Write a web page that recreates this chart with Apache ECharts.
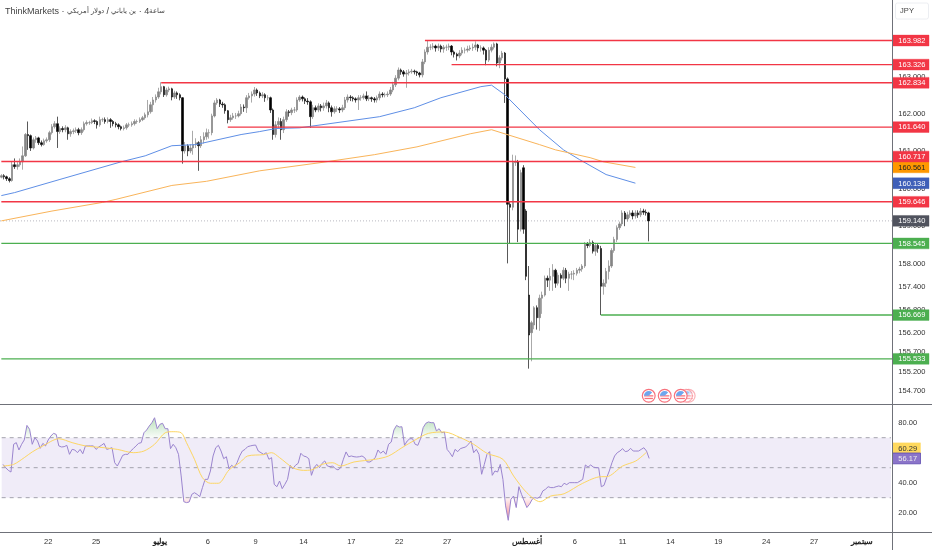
<!DOCTYPE html>
<html><head><meta charset="utf-8">
<style>html,body{margin:0;padding:0;background:#fff}#c{width:932px;height:550px}</style>
<script src="https://cdn.jsdelivr.net/npm/echarts@6/dist/echarts.min.js"></script>
</head><body><div id="c"></div>
<script>
const opens=[160.30,160.34,160.31,160.26,160.21,160.63,160.58,160.63,160.71,160.87,161.44,161.41,161.08,161.30,161.35,161.22,161.17,161.27,161.30,161.49,161.65,161.73,161.52,161.60,161.57,161.62,161.46,161.52,161.54,161.57,161.49,161.57,161.73,161.76,161.76,161.81,161.79,161.70,161.84,161.84,161.79,161.84,161.79,161.73,161.70,161.65,161.60,161.62,161.70,161.70,161.73,161.79,161.79,161.84,161.89,161.97,162.05,162.24,162.37,162.45,162.59,162.73,162.51,162.64,162.67,162.45,162.56,162.51,162.43,161.00,161.14,161.00,161.08,161.17,161.22,161.14,161.30,161.38,161.49,161.49,161.94,162.29,162.37,162.26,162.24,162.08,161.84,161.89,161.94,161.94,162.00,162.18,162.16,162.43,162.48,162.53,162.64,162.56,162.48,162.51,162.43,162.43,162.10,161.44,161.70,161.79,161.57,161.84,162.05,162.03,162.10,162.10,162.37,162.45,162.40,162.34,162.32,161.92,162.16,162.10,162.21,162.16,162.21,162.29,162.16,162.05,162.13,162.13,162.10,162.16,162.37,162.45,162.43,162.40,162.37,162.43,162.43,162.48,162.40,162.43,162.40,162.37,162.43,162.53,162.51,162.51,162.53,162.64,162.78,162.96,163.18,163.13,163.07,163.10,163.13,163.15,163.13,163.10,163.05,163.40,163.67,163.80,163.80,163.83,163.78,163.83,163.75,163.80,163.80,163.83,163.67,163.61,163.56,163.64,163.72,163.72,163.75,163.78,163.80,163.86,163.78,163.78,163.72,163.45,163.72,163.80,163.89,163.37,163.51,163.64,162.94,159.58,159.50,160.69,160.71,158.92,160.55,159.40,157.19,156.21,156.41,156.86,156.60,157.11,157.19,157.63,157.58,157.68,157.84,157.50,157.71,157.63,157.84,157.63,157.74,157.74,157.76,157.84,157.87,157.95,158.52,158.49,158.57,158.34,158.49,158.41,157.42,157.50,157.81,157.95,158.36,158.65,158.96,159.06,159.35,159.19,159.30,159.35,159.27,159.35,159.30,159.40,159.37,159.35];
const closes=[160.34,160.31,160.26,160.21,160.63,160.58,160.63,160.71,160.87,161.44,161.41,161.08,161.30,161.35,161.22,161.17,161.27,161.30,161.49,161.65,161.73,161.52,161.60,161.57,161.62,161.46,161.52,161.54,161.57,161.49,161.57,161.73,161.76,161.76,161.81,161.79,161.70,161.84,161.84,161.79,161.84,161.79,161.73,161.70,161.65,161.60,161.62,161.70,161.70,161.73,161.79,161.79,161.84,161.89,161.97,162.05,162.24,162.37,162.45,162.59,162.73,162.51,162.64,162.67,162.45,162.56,162.51,162.43,161.00,161.14,161.00,161.08,161.17,161.22,161.14,161.30,161.38,161.49,161.49,161.94,162.29,162.37,162.26,162.24,162.08,161.84,161.89,161.94,161.94,162.00,162.18,162.16,162.43,162.48,162.53,162.64,162.56,162.48,162.51,162.43,162.43,162.10,161.44,161.70,161.79,161.57,161.84,162.05,162.03,162.10,162.10,162.37,162.45,162.40,162.34,162.32,161.92,162.16,162.10,162.21,162.16,162.21,162.29,162.16,162.05,162.13,162.13,162.10,162.16,162.37,162.45,162.43,162.40,162.37,162.43,162.43,162.48,162.40,162.43,162.40,162.37,162.43,162.53,162.51,162.51,162.53,162.64,162.78,162.96,163.18,163.13,163.07,163.10,163.13,163.15,163.13,163.10,163.05,163.40,163.67,163.80,163.80,163.83,163.78,163.83,163.75,163.80,163.80,163.83,163.67,163.61,163.56,163.64,163.72,163.72,163.75,163.78,163.80,163.86,163.78,163.78,163.72,163.45,163.72,163.80,163.89,163.37,163.51,163.64,162.94,159.58,159.50,160.69,160.71,158.92,160.42,158.92,157.68,156.15,156.47,156.86,156.60,157.11,157.19,157.63,157.58,157.68,157.84,157.50,157.71,157.63,157.84,157.63,157.74,157.74,157.76,157.84,157.87,157.95,158.52,158.49,158.57,158.34,158.49,158.41,157.42,157.50,157.81,157.95,158.36,158.65,158.96,159.06,159.35,159.19,159.30,159.35,159.27,159.35,159.30,159.40,159.37,159.35,159.14];
const highs=[160.38,160.38,160.34,160.30,160.72,160.80,160.70,160.80,161.12,161.48,161.79,161.44,161.36,161.40,161.38,161.28,161.33,161.36,161.54,161.72,161.80,161.92,161.66,161.66,161.69,161.65,161.58,161.60,161.63,161.62,161.63,161.79,161.82,161.81,161.87,161.85,161.82,161.92,161.89,161.90,161.90,161.88,161.83,161.78,161.74,161.68,161.68,161.75,161.76,161.79,161.85,161.84,161.90,161.94,162.03,162.37,162.32,162.45,162.52,162.70,162.85,162.75,162.70,162.73,162.70,162.62,162.60,162.55,162.45,161.24,161.18,161.18,161.54,161.34,161.26,161.40,161.50,161.60,161.58,162.00,162.36,162.42,162.40,162.32,162.28,162.10,161.97,162.02,162.02,162.08,162.26,162.25,162.50,162.56,162.60,162.72,162.68,162.60,162.58,162.55,162.50,162.46,162.14,161.80,161.90,161.88,161.92,162.12,162.10,162.16,162.18,162.44,162.50,162.49,162.44,162.42,162.36,162.24,162.22,162.28,162.26,162.30,162.37,162.33,162.22,162.20,162.20,162.18,162.24,162.45,162.52,162.50,162.47,162.44,162.50,162.50,162.54,162.60,162.50,162.46,162.45,162.49,162.60,162.58,162.57,162.60,162.72,162.86,163.04,163.25,163.22,163.18,163.18,163.20,163.21,163.19,163.16,163.13,163.48,163.74,163.98,163.88,163.91,163.87,163.90,163.87,163.86,163.87,163.90,163.86,163.71,163.65,163.72,163.80,163.79,163.84,163.85,163.90,163.96,163.89,163.85,163.82,163.75,163.80,163.88,163.93,163.92,163.58,163.70,163.67,162.98,159.65,160.90,160.88,160.76,160.50,160.62,159.45,157.95,156.52,156.90,156.92,157.20,157.28,157.70,157.70,157.90,158.00,157.88,157.78,157.76,157.92,157.90,157.80,157.82,157.84,157.90,157.93,158.00,158.58,158.58,158.66,158.62,158.56,158.54,158.48,157.60,157.90,158.10,158.42,158.72,159.02,159.12,159.42,159.40,159.38,159.42,159.42,159.42,159.42,159.48,159.46,159.44,159.38];
const lows=[160.27,160.24,160.20,160.16,160.18,160.52,160.50,160.58,160.50,160.84,161.03,161.00,161.04,161.22,161.16,161.12,161.14,161.22,161.24,161.44,161.60,161.08,161.46,161.50,161.50,161.30,161.38,161.45,161.48,161.42,161.43,161.52,161.68,161.70,161.72,161.72,161.60,161.65,161.78,161.73,161.74,161.62,161.66,161.63,161.58,161.55,161.55,161.57,161.64,161.65,161.68,161.73,161.75,161.80,161.84,161.90,162.00,162.05,162.30,162.40,162.52,162.45,162.46,162.58,162.36,162.40,162.40,162.36,160.66,160.93,160.86,160.94,160.90,161.08,160.47,161.08,161.20,161.30,161.33,161.42,161.90,162.24,162.18,162.16,162.00,161.74,161.78,161.84,161.86,161.90,161.95,162.05,162.02,162.38,162.30,162.46,162.48,162.42,162.42,162.32,162.36,162.02,161.30,161.36,161.62,161.30,161.48,161.78,161.92,161.96,162.02,162.05,162.32,162.33,162.26,162.24,161.62,161.86,162.04,162.04,162.06,162.08,162.14,162.04,161.92,162.00,162.05,162.02,162.04,162.10,162.30,162.34,162.33,162.30,162.10,162.35,162.38,162.34,162.34,162.32,162.30,162.30,162.36,162.44,162.44,162.45,162.48,162.58,162.72,162.90,163.05,163.00,162.70,163.03,163.08,163.06,163.02,162.98,162.98,163.34,163.60,163.72,163.74,163.68,163.70,163.66,163.65,163.70,163.72,163.58,163.52,163.44,163.50,163.58,163.63,163.66,163.70,163.70,163.72,163.68,163.68,163.60,163.31,163.40,163.66,163.74,163.28,163.23,163.44,162.29,158.02,158.53,159.42,160.60,158.58,158.86,158.80,157.58,155.28,155.47,156.30,156.29,156.26,156.70,157.15,157.40,157.30,157.30,157.38,157.44,157.38,157.58,157.50,157.30,157.60,157.58,157.70,157.76,157.80,157.90,158.42,158.44,158.28,158.22,158.30,156.67,157.20,157.40,157.60,157.90,158.30,158.58,158.90,159.00,159.00,159.12,159.22,159.18,159.20,159.22,159.24,159.30,159.28,158.60];
const blueIdx=[-0.5,5,22,45,54,64,73,90,97,103,112,120,142,155,165,180,184,189,202,211,217,227,238];
const blueVal=[159.81,159.89,160.24,160.71,160.87,161.14,161.17,161.44,161.52,161.60,161.62,161.70,161.92,162.16,162.43,162.73,162.77,162.51,161.57,161.03,160.77,160.37,160.14];
const orangeIdx=[-0.5,19,38,43,64,77,97,120,140,156,176,184,202,208,221,226,238];
const orangeVal=[159.14,159.40,159.63,159.71,160.08,160.19,160.47,160.69,160.90,161.11,161.46,161.57,161.17,161.03,160.82,160.71,160.56];
const rsi=[52.2,50,48.2,47.1,65.6,66.7,61.8,65.6,68.5,78.2,75.6,65.6,70,67.8,62.9,66.2,64.5,68.5,71.1,72.9,72.2,64.5,63.8,64,64.9,58.9,62.2,61.8,60,62.2,59.3,64.5,64.5,64.5,64.5,62.2,63.8,64.9,66.2,62.2,62.7,63.3,53.3,51.1,54.5,58.2,58.9,58.9,61.1,62.7,64.5,66.2,66.7,73.3,75.1,77.8,80,83.3,76,78.9,79.6,76,76,62.7,65.6,63.3,58.9,44.5,27.3,26.7,27.1,32.2,33.3,32.2,30.7,36.7,42.2,42.2,47.8,57.8,63.3,64.9,61.1,56,57.3,49.3,51.6,50,53.3,57.8,61.1,62.2,64,64.5,64.9,65.1,61.1,60,58.9,60,55.6,56.7,38.9,37.3,41.1,36,38.9,42.2,51.6,49.3,51.6,52.9,59.6,57.8,57.3,56,44.9,50,52.2,50,52.9,54.5,51.1,50.7,51.1,49.3,48.5,50,55.6,60.5,57.3,57.8,57.3,57.1,57.3,57.8,56.7,53.8,53.8,55.1,56.7,61.8,59.6,61.1,58.9,65.6,67.1,75.1,78.2,77.1,77.3,64.9,67.8,69.3,69.3,65.6,64.9,69.3,76.7,79.6,80.5,80,80,74.5,76,73.3,73.8,62.2,60,57.3,62.2,60.7,62.7,63.3,63.8,65.6,67.8,60,62.2,58.9,45.6,52.2,58.9,60.7,44.9,47.8,47.1,52.2,42.2,24.5,14.9,28.9,31.1,23.4,37.3,32.2,27.8,23.4,25.6,28.9,30,29.6,30.7,34.5,35.6,37.3,36.7,36.7,37.3,37.8,37.3,39.6,38.7,40,40,40,40,41.1,42.2,51.8,50.4,51.8,50.4,50,50,37.3,38.2,43.3,47.8,53.3,57.8,60,61.1,62.7,60.7,61.1,62.9,61.1,61.1,61.1,62.2,63.3,61.1,56.17];
const rsiMaIdx=[0,4,8,11,15,21,26,31,38,43,49,53,57,61,64,67,69,72,75,78,81,85,89,92,98,101,104,109,113,116,120,124,127,132,140,145,150,155,160,166,172,177,182,188,192,197,202,206,211,218,225,227,233,238,242];
const rsiMaVal=[51.1,52.2,56.7,60.5,64.5,69.3,66.7,64.5,63.3,62.2,60,61.1,65.6,73.3,74,73.3,66.7,55.6,43.3,39.6,39.6,48.5,53.3,57.8,58.7,60,56.7,50,48.2,48.5,52.2,53.3,51.1,53.8,55.6,57.8,63.3,68.5,72.9,73.8,70,65.6,59.6,55.6,44.5,33.3,27.3,31.1,32.6,39.6,44,44,51.1,54.5,60.29];
const rsiBands=[70,50,30];
const tickIdx=[17,35,59,77,95,113,131,149,167,197,215,233,251,269,287,305,323];
const tickText=['22','25','يوليو','6','9','14','17','22','27','أغسطس','6','11','14','19','24','27','سبتمبر'];
const priceTicks=[163,162,161,160,159,158,157.4,156.8,156.2,155.7,155.2,154.7];
const rsiTicks=[80,60,40,20];
const levelPrice=[163.982,163.326,162.834,161.640,160.717,159.646,158.545,156.669,155.533];
const levelStart=[159,169,60,85,-0.5,-0.5,-0.5,225,-0.5];
const tagPrice=[160.561,160.138];
const lastPrice=159.140;
const eventIdx=[258.3,256.8,254.6,248.6,242.6];
const eventPrice=154.58;
const rsiTagVal=[60.29,56.17];

const N=335, FONT='"Liberation Sans",Arial,sans-serif', GRID_W=892.5;
const categories=Array.from({length:N},(_,i)=>{const k=tickIdx.indexOf(i);return k<0?'':tickText[k];});
const ohlc=opens.map((o,i)=>[o,closes[i],lows[i],highs[i]]);
const RED='#f23645',GREEN='#4caf50';
function tag(cs,y,text,bg,fg,w,edge){
  const r=cs.x+cs.width;
  return [{type:'rect',shape:{x:r,y:y-5.4,width:w||36.5,height:10.8},style:{fill:bg,stroke:edge||bg,lineWidth:edge?0.8:0.4}},
    {type:'text',style:{x:r+5.8,y:y+0.2,text:text,fill:fg,font:'7.5px '+FONT,align:'left',verticalAlign:'middle'}}];
}
const levelsRender=(p,api)=>{
  const i=p.dataIndex,v=levelPrice[i],c=v<159?GREEN:RED,cs=p.coordSys;
  const a=api.coord([levelStart[i],v]);
  const shift=v===160.717?-5:0;
  return {type:'group',children:[
    {type:'line',shape:{x1:a[0],y1:a[1],x2:cs.x+cs.width,y2:a[1]},style:{stroke:c,lineWidth:1.4}},
    ...tag(cs,a[1]+shift,v.toFixed(3),c,'#fff')]};
};
const tagsRender=(p,api)=>{
  const i=p.dataIndex,cs=p.coordSys,y=api.coord([0,tagPrice[i]])[1];
  return {type:'group',children:tag(cs,y,tagPrice[i].toFixed(3),i==0?'#ff9800':'#3f5fb8',i==0?'#222':'#fff')};
};
const lastRender=(p,api)=>{
  const cs=p.coordSys,y=api.coord([0,lastPrice])[1];
  return {type:'group',children:[
    {type:'line',shape:{x1:cs.x,y1:y,x2:cs.x+cs.width,y2:y},style:{stroke:'#b8b8c0',lineWidth:1,lineDash:[1,2]}},
    ...tag(cs,y,lastPrice.toFixed(3),'#50535e','#fff')]};
};
const bandRender=(p,api)=>{
  const cs=p.coordSys,i=p.dataIndex,v=rsiBands[i],y=api.coord([0,v])[1],r=cs.x+cs.width-1.5,kids=[];
  if(i===0){const y2=api.coord([0,rsiBands[2]])[1];
    kids.push({type:'rect',shape:{x:cs.x,y:y,width:r-cs.x,height:y2-y},style:{fill:'#f0ecf8'}});}
  kids.push({type:'line',shape:{x1:cs.x,y1:y,x2:r,y2:y},style:{stroke:'#a3a3ad',lineWidth:1,lineDash:[4,4]}});
  return {type:'group',children:kids};
};
const eventRender=(p,api)=>{
  const c=api.coord([eventIdx[p.dataIndex],eventPrice]),x=c[0],y=c[1],op=p.dataIndex<2?.55:1;
  return {type:'group',children:[
    {type:'circle',shape:{cx:x,cy:y,r:6.4},style:{fill:'#fff',stroke:'#f7727d',lineWidth:1.2,opacity:op}},
    {type:'rect',shape:{x:x-4.6,y:y-0.6,width:9.2,height:1.3},style:{fill:'#f7727d',opacity:op}},
    {type:'rect',shape:{x:x-4.2,y:y+2,width:8.4,height:1.3},style:{fill:'#f7727d',opacity:op}},
    {type:'sector',shape:{cx:x,cy:y,r:4.8,r0:0,startAngle:Math.PI,endAngle:Math.PI*1.75},style:{fill:'#6da6ee',opacity:op}}]};
};
function clipSeg(x0,a,x1,b,t,above){
  const on=v=>above?v>t:v<t;
  if(!on(a)&&!on(b))return null;
  const pts=[];
  const cross=x0+(t-a)/(b-a)*(x1-x0);
  if(on(a)){pts.push([x0,t],[x0,a]);} else pts.push([cross,t]);
  if(on(b)){pts.push([x1,b],[x1,t]);} else pts.push([cross,t]);
  return pts;
}
const fillRender=(p,api)=>{
  const i=p.dataIndex;
  if(i>=rsi.length-1)return null;
  const a=rsi[i],b=rsi[i+1],kids=[];
  [[70,true,84,'rgba(76,175,80,0.42)','rgba(76,175,80,0.03)'],[30,false,14,'rgba(242,54,69,0.65)','rgba(242,54,69,0.05)']].forEach(d=>{
    const pts=clipSeg(i,a,i+1,b,d[0],d[1]);
    if(!pts)return;
    const y1=api.coord([0,d[2]])[1],y2=api.coord([0,d[0]])[1];
    kids.push({type:'polygon',shape:{points:pts.map(q=>api.coord(q))},style:{fill:{type:'linear',x:0,y:y1,x2:0,y2:y2,global:true,colorStops:[{offset:0,color:d[3]},{offset:1,color:d[4]}]}}});
  });
  return {type:'group',children:kids};
};
const chart=echarts.init(document.getElementById('c'),null,{width:932,height:550});
chart.setOption({
  animation:false,backgroundColor:'#fff',
  title:{text:'{a|ThinkMarkets · }{b|دولار أمريكي}{a| / }{b|ين ياباني}{a| · 4}{b|ساعة}',left:5,top:7,padding:0,
    textStyle:{fontWeight:'normal',rich:{a:{fontFamily:FONT,fontSize:9,fontWeight:'normal',color:'#444'},b:{fontFamily:FONT,fontSize:6.8,fontWeight:'normal',color:'#444'}}}},
  grid:[{left:0,top:0,width:GRID_W,height:404},{left:0,top:405,width:GRID_W,height:127}],
  xAxis:[
    {type:'category',gridIndex:0,data:categories,show:false},
    {type:'category',gridIndex:1,data:categories,axisTick:{show:false},axisLine:{show:false},
     axisLabel:{interval:0,margin:5.5,fontFamily:FONT,fontSize:7.5,color:'#333',
       formatter:v=>/[0-9]/.test(v)?v:'{m|'+v+'}',rich:{m:{fontWeight:'bold',fontSize:8,color:'#222',fontFamily:FONT}}}}],
  yAxis:[
    {type:'log',logBase:10,gridIndex:0,position:'right',min:154.37,max:165.09,splitLine:{show:false},axisLine:{show:false},axisTick:{show:false},
     axisLabel:{customValues:priceTicks,margin:5.8,fontFamily:FONT,fontSize:7.5,color:'#333',formatter:v=>(+v).toFixed(3)}},
    {type:'value',gridIndex:1,position:'right',min:7.1,max:91.8,splitLine:{show:false},axisLine:{show:false},axisTick:{show:false},
     axisLabel:{customValues:rsiTicks,margin:5.8,fontFamily:FONT,fontSize:7.5,color:'#333',formatter:v=>(+v).toFixed(2)}}],
  graphic:[
    {type:'line',silent:true,z:50,shape:{x1:892.5,y1:0,x2:892.5,y2:550},style:{stroke:'#6f7179',lineWidth:1}},
    {type:'line',silent:true,z:50,shape:{x1:0,y1:404.5,x2:932,y2:404.5},style:{stroke:'#6f7179',lineWidth:1}},
    {type:'line',silent:true,z:50,shape:{x1:0,y1:532.5,x2:932,y2:532.5},style:{stroke:'#6f7179',lineWidth:1}},
    {type:'rect',silent:true,z:50,shape:{x:895.5,y:3,width:33,height:16,r:2},style:{fill:'#fff',stroke:'#eceef2',lineWidth:1}},
    {type:'text',silent:true,z:51,x:907,y:11,style:{text:'JPY',fill:'#444',font:'7.5px '+FONT,align:'center',verticalAlign:'middle'}}
  ],
  series:[
    {type:'custom',name:'rsi-band',xAxisIndex:1,yAxisIndex:1,data:rsiBands.map(v=>[0,v]),renderItem:bandRender,z:2,silent:true},
    {type:'custom',name:'rsi-fill',xAxisIndex:1,yAxisIndex:1,data:rsi.map((v,i)=>[i,v]),renderItem:fillRender,z:3,silent:true},
    {type:'line',name:'RSI',xAxisIndex:1,yAxisIndex:1,data:rsi.map((v,i)=>[i,v]),showSymbol:false,symbol:'none',lineStyle:{color:'#9b85cf',width:1},z:4,silent:true},
    {type:'line',name:'RSI MA',xAxisIndex:1,yAxisIndex:1,data:rsiMaIdx.map((x,i)=>[x,rsiMaVal[i]]),symbol:'none',smooth:0.3,lineStyle:{color:'#fdd663',width:1},z:5,silent:true},
    {type:'custom',name:'rsi-tags',xAxisIndex:1,yAxisIndex:1,data:rsiTagVal.map(v=>[0,v]),z:30,silent:true,renderItem:(p,api)=>{
      const i=p.dataIndex,v=rsiTagVal[i],y=api.coord([0,v])[1]+(i==0?-4:0);
      return {type:'group',children:tag(p.coordSys,y,v.toFixed(2),i==0?'#ffd95e':'#8b74c9',i==0?'#333':'#eee',28,i==0?null:'#5e4bb0')};}},
    {type:'candlestick',name:'USDJPY',xAxisIndex:0,yAxisIndex:0,data:ohlc,barWidth:2,z:6,silent:true,
     itemStyle:{color:'#858585',color0:'#000',borderColor:'#858585',borderColor0:'#111',borderWidth:0.7}},
    {type:'line',name:'MA fast',xAxisIndex:0,yAxisIndex:0,data:blueIdx.map((x,i)=>[x,blueVal[i]]),symbol:'none',lineStyle:{color:'#5f8fe6',width:1},z:8,silent:true},
    {type:'line',name:'MA slow',xAxisIndex:0,yAxisIndex:0,data:orangeIdx.map((x,i)=>[x,orangeVal[i]]),symbol:'none',lineStyle:{color:'#f9b45a',width:1},z:8,silent:true},
    {type:'custom',name:'last',xAxisIndex:0,yAxisIndex:0,data:[[0,lastPrice]],renderItem:lastRender,z:5,silent:true},
    {type:'custom',name:'tags',xAxisIndex:0,yAxisIndex:0,data:tagPrice.map(v=>[0,v]),renderItem:tagsRender,z:9,silent:true},
    {type:'custom',name:'levels',xAxisIndex:0,yAxisIndex:0,data:levelPrice.map((v,i)=>[levelStart[i],v]),renderItem:levelsRender,z:10,silent:true},
    {type:'custom',name:'events',xAxisIndex:0,yAxisIndex:0,data:eventIdx.map(x=>[x,eventPrice]),renderItem:eventRender,z:11,silent:true}
  ]
});
</script></body></html>
